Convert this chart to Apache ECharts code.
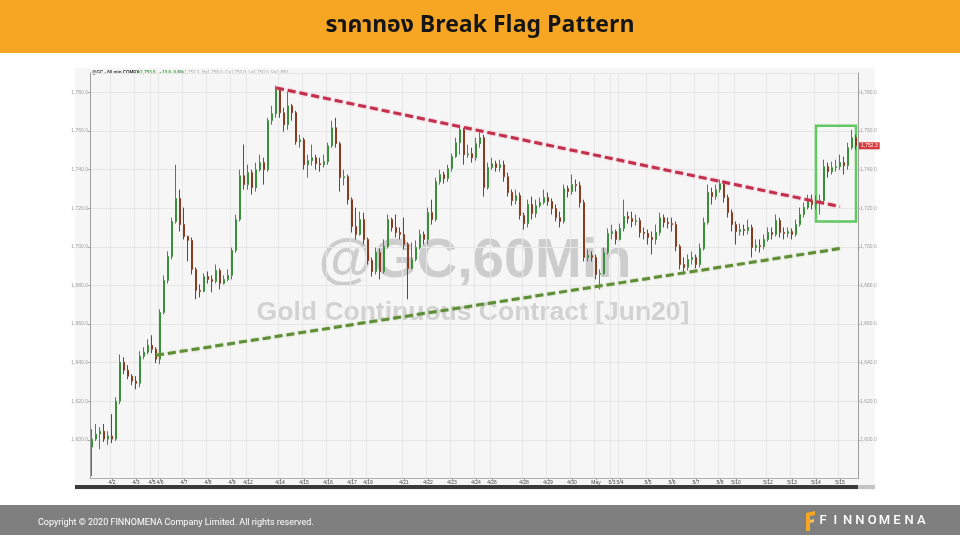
<!DOCTYPE html>
<html><head><meta charset="utf-8">
<script src="https://cdn.jsdelivr.net/npm/echarts@6/dist/echarts.min.js"></script>
<style>html,body{margin:0;padding:0;background:#fff}#c{width:960px;height:540px}</style>
</head><body><div id="c"></div><script>
// 60-minute gold candles (~4 bars per label step)
const opens=[1596.3,1600.4,1603.0,1604.5,1600.4,1602.0,1600.4,1620.0,1640.2,1636.1,
1633.0,1630.4,1629.3,1643.3,1645.4,1649.0,1646.9,1641.8,1666.0,1682.6,
1695.0,1713.1,1725.0,1711.5,1705.3,1703.3,1688.3,1677.4,1676.9,1684.6,
1683.1,1682.1,1687.7,1681.0,1683.1,1685.2,1698.1,1714.1,1736.8,1732.2,
1738.4,1730.6,1739.9,1743.6,1739.9,1765.3,1768.9,1781.3,1769.4,1763.2,
1773.0,1769.4,1754.4,1755.4,1742.5,1744.6,1746.1,1743.0,1742.5,1744.1,
1752.3,1761.6,1753.4,1735.8,1736.3,1724.4,1710.5,1706.4,1714.1,1703.8,
1692.9,1687.2,1697.0,1687.2,1700.2,1714.1,1710.0,1707.4,1706.4,1701.2,
1688.8,1693.4,1699.6,1706.4,1703.8,1717.7,1714.1,1733.7,1737.4,1735.3,
1740.5,1746.7,1753.9,1760.6,1747.7,1748.2,1746.1,1753.4,1756.5,1730.6,
1741.0,1743.0,1741.0,1742.5,1736.3,1728.1,1723.9,1726.5,1716.2,1712.0,
1721.9,1717.2,1721.3,1722.9,1725.5,1723.4,1719.8,1715.1,1713.1,1730.1,
1728.6,1732.2,1731.7,1722.9,1694.5,1695.5,1694.5,1685.7,1686.2,1697.0,
1706.9,1707.9,1703.8,1709.5,1715.7,1714.6,1713.1,1713.6,1707.4,1706.9,
1704.8,1703.8,1707.4,1715.1,1712.6,1712.0,1711.5,1700.2,1690.8,1689.3,
1693.4,1694.5,1690.8,1699.1,1712.6,1728.1,1726.0,1729.6,1732.7,1725.5,
1717.7,1711.5,1707.9,1708.9,1708.4,1710.0,1699.6,1700.7,1700.2,1703.8,
1707.4,1706.4,1713.6,1707.4,1706.9,1707.9,1706.4,1711.5,1716.7,1720.3,
1723.9,1721.9,1722.9,1723.9,1741.5,1738.9,1741.0,1741.5,1743.6,1742.0,
1751.3,1756.5];
const closes=[1600.4,1603.0,1604.5,1600.4,1602.0,1600.4,1620.0,1640.2,1636.1,1633.0,
1630.4,1629.3,1643.3,1645.4,1649.0,1646.9,1641.8,1666.0,1682.6,1695.0,
1713.1,1725.0,1711.5,1705.3,1703.3,1688.3,1677.4,1676.9,1684.6,1683.1,
1682.1,1687.7,1681.0,1683.1,1685.2,1698.1,1714.1,1736.8,1732.2,1738.4,
1730.6,1739.9,1743.6,1739.9,1765.3,1768.9,1781.3,1769.4,1763.2,1773.0,
1769.4,1754.4,1755.4,1742.5,1744.6,1746.1,1743.0,1742.5,1744.1,1752.3,
1761.6,1753.4,1735.8,1736.3,1724.4,1710.5,1706.4,1714.1,1703.8,1692.9,
1687.2,1697.0,1687.2,1700.2,1714.1,1710.0,1707.4,1706.4,1701.2,1688.8,
1693.4,1699.6,1706.4,1703.8,1717.7,1714.1,1733.7,1737.4,1735.3,1740.5,
1746.7,1753.9,1760.6,1747.7,1748.2,1746.1,1753.4,1756.5,1730.6,1741.0,
1743.0,1741.0,1742.5,1736.3,1728.1,1723.9,1726.5,1716.2,1712.0,1721.9,
1717.2,1721.3,1722.9,1725.5,1723.4,1719.8,1715.1,1713.1,1730.1,1728.6,
1732.2,1731.7,1722.9,1694.5,1695.5,1694.5,1685.7,1686.2,1697.0,1706.9,
1707.9,1703.8,1709.5,1715.7,1714.6,1713.1,1713.6,1707.4,1706.9,1704.8,
1703.8,1707.4,1715.1,1712.6,1712.0,1711.5,1700.2,1690.8,1689.3,1693.4,
1694.5,1690.8,1699.1,1712.6,1728.1,1726.0,1729.6,1732.7,1725.5,1717.7,
1711.5,1707.9,1708.9,1708.4,1710.0,1699.6,1700.7,1700.2,1703.8,1707.4,
1706.4,1713.6,1707.4,1706.9,1707.9,1706.4,1711.5,1716.7,1720.3,1723.9,
1721.9,1722.9,1723.9,1741.5,1738.9,1741.0,1741.5,1743.6,1742.0,1751.3,
1756.5,1752.3];
const lows=[1581.3,1599.4,1595.2,1598.9,1597.3,1598.3,1599.4,1618.5,1634.0,1631.4,
1628.3,1626.2,1627.3,1641.8,1644.3,1644.9,1639.7,1639.2,1665.0,1681.0,
1693.4,1712.0,1707.9,1703.8,1692.4,1685.7,1672.8,1673.8,1676.4,1681.0,
1676.4,1681.0,1677.9,1680.5,1682.1,1683.1,1697.0,1713.1,1729.6,1729.6,
1727.0,1728.6,1738.9,1732.2,1738.9,1763.2,1766.8,1766.8,1759.6,1760.6,
1765.3,1752.9,1751.3,1739.9,1735.8,1742.0,1739.9,1738.9,1741.0,1742.5,
1751.3,1751.3,1728.6,1731.7,1721.9,1707.4,1703.8,1705.8,1701.2,1690.8,
1684.6,1685.7,1683.1,1686.2,1699.1,1707.9,1704.8,1703.8,1698.6,1672.8,
1688.3,1692.4,1698.6,1701.2,1701.2,1711.5,1713.1,1732.2,1732.7,1733.7,
1738.9,1746.1,1747.7,1742.5,1746.1,1743.6,1744.6,1751.3,1726.0,1729.6,
1739.9,1738.9,1738.9,1733.7,1726.0,1721.3,1721.9,1714.1,1708.9,1710.0,
1714.1,1715.1,1720.3,1721.9,1721.3,1716.7,1713.1,1710.0,1712.0,1725.5,
1727.0,1728.6,1720.3,1692.4,1692.4,1692.4,1683.1,1677.9,1685.2,1696.0,
1703.8,1701.2,1703.3,1707.9,1712.0,1710.0,1711.0,1704.8,1703.8,1701.2,
1696.0,1701.2,1705.8,1710.0,1709.5,1707.9,1697.6,1688.3,1685.7,1687.7,
1690.8,1688.8,1689.3,1698.1,1711.5,1721.9,1724.4,1728.1,1722.9,1715.1,
1707.9,1701.2,1705.8,1705.8,1706.4,1694.5,1697.6,1697.0,1698.6,1702.7,
1703.8,1705.3,1704.8,1703.8,1704.8,1703.8,1705.3,1710.5,1715.1,1719.3,
1719.3,1719.3,1716.7,1721.9,1735.8,1737.4,1738.9,1739.9,1737.4,1739.9,
1750.3,1750.3];
const highs=[1605.6,1608.2,1606.6,1608.2,1604.5,1613.3,1622.1,1644.3,1642.8,1638.7,
1634.0,1633.0,1645.9,1648.0,1652.1,1654.2,1648.0,1667.6,1685.2,1697.6,
1715.1,1742.5,1729.6,1720.3,1705.8,1704.8,1689.3,1680.5,1686.2,1687.2,
1685.2,1690.8,1688.8,1685.2,1688.3,1699.6,1716.7,1739.9,1752.9,1742.5,
1739.9,1743.6,1747.7,1746.1,1766.8,1773.0,1783.4,1782.3,1772.0,1780.3,
1774.0,1770.4,1758.0,1756.5,1747.7,1752.9,1747.7,1746.1,1747.7,1753.9,
1765.3,1766.8,1754.4,1739.9,1737.4,1725.5,1720.3,1718.2,1717.7,1704.8,
1694.5,1699.6,1699.1,1703.8,1716.7,1715.1,1716.7,1710.0,1715.1,1702.2,
1702.2,1703.3,1708.9,1707.9,1720.3,1724.4,1735.8,1739.9,1738.9,1742.5,
1748.2,1756.5,1763.2,1761.6,1752.9,1751.3,1756.5,1760.6,1758.0,1743.6,
1746.1,1744.6,1745.1,1744.6,1738.4,1729.6,1729.6,1728.1,1717.7,1724.4,
1726.0,1724.4,1725.5,1729.6,1728.1,1725.0,1721.9,1718.2,1732.2,1731.7,
1737.4,1734.8,1733.7,1724.4,1698.6,1697.6,1696.0,1688.3,1699.6,1709.5,
1711.5,1708.9,1712.0,1724.4,1718.2,1718.2,1716.7,1715.1,1710.0,1708.9,
1707.9,1711.5,1717.7,1716.7,1715.1,1715.1,1713.1,1701.2,1694.5,1696.0,
1697.6,1696.0,1701.7,1715.1,1732.2,1730.6,1732.2,1734.8,1733.7,1727.0,
1719.3,1713.1,1712.0,1711.5,1714.1,1711.5,1703.8,1703.8,1706.4,1710.0,
1710.0,1716.7,1715.1,1710.0,1710.0,1709.5,1714.1,1720.3,1722.9,1727.0,
1727.0,1726.5,1727.0,1745.1,1743.6,1744.1,1745.1,1747.7,1746.7,1753.9,
1760.6,1758.0];
// date tick labels and the bar each one sits on
const tickLabels=['4/2','4/3','4/5','4/6','4/7','4/8','4/9','4/12','4/14','4/15','4/16','4/17','4/19','4/21','4/22','4/23','4/24','4/26','4/28','4/29','4/30','May','5/3','5/4','5/5','5/6','5/7','5/8','5/10','5/12','5/13','5/14','5/15'];
const tickSlots=[5,11,15,17,23,29,35,39,47,53,59,65,69,78,84,90,96,100,108,114,120,126,130,132,139,145,151,157,161,169,175,181,187];
// trend lines [bar, price] and flag box [bar, price]
const resistanceLine=[[46,1782.3],[187,1720.8]];
const supportLine=[[16,1643.8],[187,1699.1]];
const flagBox=[[181,1762.7],[191,1713.1]];

const categories=opens.map((_,i)=>'bar'+i);
const candles=opens.map((o,i)=>[o,closes[i],lows[i],highs[i]]);
const tickSet=new Set(tickSlots);
const fmt=v=>Number(v).toLocaleString('en-US',{minimumFractionDigits:1,maximumFractionDigits:1});
const last=closes[closes.length-1];

const chart=echarts.init(document.getElementById('c'),null,{renderer:'canvas'});
const yCommon={type:'value',min:1580,max:1790,interval:20,
  axisLine:{show:true,lineStyle:{color:'#9c9c9c',width:1}},
  axisTick:{show:true,length:2,lineStyle:{color:'#aaa'}},
  axisLabel:{fontSize:5,color:'#a0a0a0',showMinLabel:false,showMaxLabel:false,margin:2,formatter:fmt,fontFamily:'Liberation Sans'}};
chart.setOption({
  animation:false,
  grid:{left:90,right:102,top:73,bottom:61.5},
  xAxis:{type:'category',data:categories,boundaryGap:true,
    axisLine:{show:true,lineStyle:{color:'#b0b0b0'}},
    axisTick:{show:true,length:2,alignWithLabel:true,interval:(i)=>tickSet.has(i),lineStyle:{color:'#999'}},
    axisLabel:{interval:(i)=>tickSet.has(i),formatter:(v,i)=>tickLabels[tickSlots.indexOf(i)],fontSize:5,color:'#444',margin:2,fontFamily:'Liberation Sans'},
    splitLine:{show:true,interval:(i)=>tickSet.has(i),lineStyle:{color:'#e6e6e6',width:1}}},
  yAxis:[Object.assign({},yCommon,{position:'left',splitLine:{show:true,lineStyle:{color:'#e6e6e6'}}}),
         Object.assign({},yCommon,{position:'right',splitLine:{show:false}})],
  series:[
    {type:'candlestick',data:candles,barWidth:2.4,
     itemStyle:{color:'#3f9c3f',color0:'#a8431f',borderColor:'#3a8f3a',borderColor0:'#8a3a1e',borderWidth:1},
     markArea:{silent:true,itemStyle:{color:'rgba(0,0,0,0)',borderColor:'#62c862',borderWidth:2.5},
       data:[[{xAxis:flagBox[0][0],yAxis:flagBox[0][1]},{xAxis:flagBox[1][0],yAxis:flagBox[1][1]}]]},
     markLine:{silent:true,symbol:'none',lineStyle:{color:'rgba(0,0,0,0)',width:0},
       label:{show:true,position:'end',distance:1,formatter:()=>fmt(last),color:'#fff',backgroundColor:'#d8383a',fontSize:5,padding:[1,2],fontFamily:'Liberation Sans'},
       data:[{yAxis:last}]}
    },
    {type:'line',data:resistanceLine,symbol:'none',z:5,
     lineStyle:{color:'#c2304c',width:3,type:[8,4],shadowColor:'rgba(230,110,140,0.7)',shadowBlur:2}},
    {type:'line',data:supportLine,symbol:'none',z:5,
     lineStyle:{color:'#5f8d38',width:3,type:[8,4],shadowColor:'rgba(150,190,110,0.7)',shadowBlur:2}}
  ],
  graphic:[
    {type:'rect',z:-3,shape:{x:75,y:68,width:800,height:422},style:{fill:'#f6f6f6'}},
    {type:'text',z:-2,style:{text:'@GC,60Min',x:475,y:262,textAlign:'center',textVerticalAlign:'middle',font:'bold 56px "Liberation Sans", Arial, sans-serif',fill:'#cdcdcd'}},
    {type:'text',z:-2,style:{text:'Gold Continuous Contract [Jun20]',x:473,y:313,textAlign:'center',textVerticalAlign:'middle',font:'bold 26.5px "Liberation Sans", Arial, sans-serif',fill:'#d2d2d2'}},
    {type:'text',style:{text:'@GC - 60 min COMEX',x:92,y:73,textVerticalAlign:'middle',font:'bold 4.5px "Liberation Sans"',fill:'#333'}},
    {type:'text',style:{text:'L=1,753.0  ▲13.6  0.8%',x:135,y:73,textVerticalAlign:'middle',font:'bold 4.5px "Liberation Sans"',fill:'#3aa53a'}},
    {type:'text',style:{text:'O=1,752.3  H=1,758.0  C=1,753.0  L=1,750.0  V=1,880',x:178,y:73,textVerticalAlign:'middle',font:'4.5px "Liberation Sans"',fill:'#aaa'}},
    {type:'rect',shape:{x:75,y:485,width:783,height:4},style:{fill:'#3a3a3a'}},
    {type:'rect',shape:{x:858,y:485,width:17,height:4},style:{fill:'#c4c4c4'}},
    {type:'rect',shape:{x:0,y:0,width:960,height:53},style:{fill:'#F6A623'}},
    {type:'text',style:{text:'ราคาทอง Break Flag Pattern',x:480,y:27,textAlign:'center',textVerticalAlign:'middle',font:'bold 23px "Noto Sans Thai", "Noto Sans", "DejaVu Sans", sans-serif',fill:'#151515'}},
    {type:'rect',shape:{x:0,y:505,width:960,height:30},style:{fill:'#7f7f7f'}},
    {type:'text',style:{text:'Copyright © 2020 FINNOMENA Company Limited. All rights reserved.',x:38,y:523,textVerticalAlign:'middle',font:'9px Roboto, "Liberation Sans", sans-serif',fill:'#ffffff'}},
    {type:'polygon',shape:{points:[[806,513],[815,511],[815,515],[810,516],[810,531],[806,531]]},style:{fill:'#F6A623'}},
    {type:'polygon',shape:{points:[[810,520],[814,519],[814,522],[810,523]]},style:{fill:'#F9C25A'}},
    ...'FINNOMENA'.split('').map((ch,k)=>({type:'text',style:{text:ch,x:823+k*12.3,y:521,textAlign:'center',textVerticalAlign:'middle',font:'500 13px Roboto, "Liberation Sans", sans-serif',fill:'#ffffff'}}))
  ]
});
</script></body></html>
